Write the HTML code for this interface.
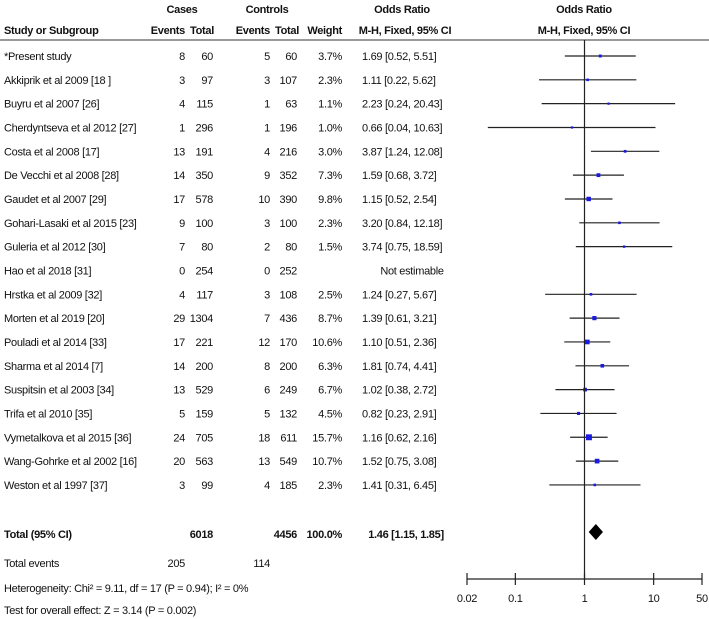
<!DOCTYPE html>
<html><head><meta charset="utf-8"><style>
body{margin:0;background:#fff}
svg{display:block;font-family:"Liberation Sans",sans-serif;font-size:11px;letter-spacing:-0.3px;fill:#111}
.b{font-weight:bold}
</style></head><body>
<svg id="c" width="709" height="619" viewBox="0 0 709 619" xmlns="http://www.w3.org/2000/svg">
<g>
<text class="b" x="182" y="13" text-anchor="middle">Cases</text>
<text class="b" x="267" y="13" text-anchor="middle">Controls</text>
<text class="b" x="402" y="13" text-anchor="middle">Odds Ratio</text>
<text class="b" x="584" y="13" text-anchor="middle">Odds Ratio</text>
<text class="b" x="4" y="34">Study or Subgroup</text>
<text class="b" x="185" y="34" text-anchor="end">Events</text>
<text class="b" x="214" y="34" text-anchor="end">Total</text>
<text class="b" x="270" y="34" text-anchor="end">Events</text>
<text class="b" x="299" y="34" text-anchor="end">Total</text>
<text class="b" x="342" y="34" text-anchor="end">Weight</text>
<text class="b" x="405" y="34" text-anchor="middle">M-H, Fixed, 95% CI</text>
<text class="b" x="584" y="34" text-anchor="middle">M-H, Fixed, 95% CI</text>
<line x1="0" y1="40" x2="709" y2="40" stroke="#333" stroke-width="1"/>
</g>
<g id="rows"></g>
<g id="plot"></g>
<g>
<text class="b" x="4" y="538">Total (95% CI)</text>
<text class="b" x="213" y="538" text-anchor="end">6018</text>
<text class="b" x="297" y="538" text-anchor="end">4456</text>
<text class="b" x="342" y="538" text-anchor="end">100.0%</text>
<text class="b" x="406" y="538" text-anchor="middle">1.46 [1.15, 1.85]</text>
<text x="4" y="567">Total events</text>
<text x="185" y="567" text-anchor="end">205</text>
<text x="270" y="567" text-anchor="end">114</text>
<text x="4" y="592">Heterogeneity: Chi² = 9.11, df = 17 (P = 0.94); I² = 0%</text>
<text x="4" y="614">Test for overall effect: Z = 3.14 (P = 0.002)</text>
</g>
</svg>
<script>
const studies=["*Present study","Akkiprik et al 2009 [18 ]","Buyru et al 2007 [26]","Cherdyntseva et al 2012 [27]","Costa et al 2008 [17]","De Vecchi et al 2008 [28]","Gaudet et al 2007 [29]","Gohari-Lasaki et al 2015 [23]","Guleria et al 2012 [30]","Hao et al 2018 [31]","Hrstka et al 2009 [32]","Morten et al 2019 [20]","Pouladi et al 2014 [33]","Sharma et al 2014 [7]","Suspitsin et al 2003 [34]","Trifa et al 2010 [35]","Vymetalkova et al 2015 [36]","Wang-Gohrke et al 2002 [16]","Weston et al 1997 [37]"];
const caseEvents=[8,3,4,1,13,14,17,9,7,0,4,29,17,14,13,5,24,20,3];
const caseTotal=[60,97,115,296,191,350,578,100,80,254,117,1304,221,200,529,159,705,563,99];
const ctrlEvents=[5,3,1,1,4,9,10,3,2,0,3,7,12,8,6,5,18,13,4];
const ctrlTotal=[60,107,63,196,216,352,390,100,80,252,108,436,170,200,249,132,611,549,185];
const weights=[3.7,2.3,1.1,1.0,3.0,7.3,9.8,2.3,1.5,null,2.5,8.7,10.6,6.3,6.7,4.5,15.7,10.7,2.3];
const orVal=[1.69,1.11,2.23,0.66,3.87,1.59,1.15,3.20,3.74,null,1.24,1.39,1.10,1.81,1.02,0.82,1.16,1.52,1.41];
const ciLow=[0.52,0.22,0.24,0.04,1.24,0.68,0.52,0.84,0.75,null,0.27,0.61,0.51,0.74,0.38,0.23,0.62,0.75,0.31];
const ciHigh=[5.51,5.62,20.43,10.63,12.08,3.72,2.54,12.18,18.59,null,5.67,3.21,2.36,4.41,2.72,2.91,2.16,3.08,6.45];
const totalOR=[1.46,1.15,1.85];
const ticks=[0.02,0.1,1,10,50];
const NS="http://www.w3.org/2000/svg";
const x=v=>467+(Math.log10(v)-Math.log10(0.02))*(235/Math.log10(2500));
const y=i=>60+i*23.83;
function mk(tag,at,parent,txt){const e=document.createElementNS(NS,tag);for(const k in at)e.setAttribute(k,at[k]);if(txt!=null)e.textContent=txt;parent.appendChild(e);return e;}
const rows=document.getElementById('rows'),plot=document.getElementById('plot');
studies.forEach((s,i)=>{
  const g=mk('g',{},rows);
  
  
  const yy=y(i);
  mk('text',{x:4,y:yy},g,s);
  mk('text',{x:185,y:yy,'text-anchor':'end'},g,caseEvents[i]);
  mk('text',{x:213,y:yy,'text-anchor':'end'},g,caseTotal[i]);
  mk('text',{x:270,y:yy,'text-anchor':'end'},g,ctrlEvents[i]);
  mk('text',{x:297,y:yy,'text-anchor':'end'},g,ctrlTotal[i]);
  if(weights[i]!=null)mk('text',{x:342,y:yy,'text-anchor':'end'},g,weights[i].toFixed(1)+'%');
  const ortxt=orVal[i]==null?'Not estimable':orVal[i].toFixed(2)+' ['+ciLow[i].toFixed(2)+', '+ciHigh[i].toFixed(2)+']';
  mk('text',{x:orVal[i]==null?412:362,y:yy,'text-anchor':orVal[i]==null?'middle':'start'},g,ortxt);
  if(orVal[i]!=null){
    const ly=yy-4;
    const l=mk('line',{x1:x(Math.max(ciLow[i],0.02)),x2:x(Math.min(ciHigh[i],50)),y1:ly,y2:ly,stroke:'#222','stroke-width':1.2},plot);
    
    
    const sz=2+weights[i]*0.25;
    const r=mk('rect',{x:x(orVal[i])-sz/2,y:ly-sz/2,width:sz,height:sz,fill:'#1a1ae0'},plot);
    
    
  }
});
const vl=mk('line',{x1:x(1),x2:x(1),y1:40,y2:579,stroke:'#222','stroke-width':1.2},plot);


const dy=532;
const dm=mk('polygon',{points:`${x(totalOR[1])},${dy} ${x(totalOR[0])},${dy-8} ${x(totalOR[2])},${dy} ${x(totalOR[0])},${dy+8}`,fill:'#000'},plot);


const ax=mk('line',{x1:x(0.02),x2:x(50),y1:579,y2:579,stroke:'#222','stroke-width':1.2},plot);


ticks.forEach(t=>{
  const tk=mk('line',{x1:x(t),x2:x(t),y1:573,y2:585,stroke:'#222','stroke-width':1.2},plot);
  
  
  const tl=mk('text',{x:x(t),y:602,'text-anchor':'middle'},plot,String(t));
  
  
});
</script>
</body></html>
